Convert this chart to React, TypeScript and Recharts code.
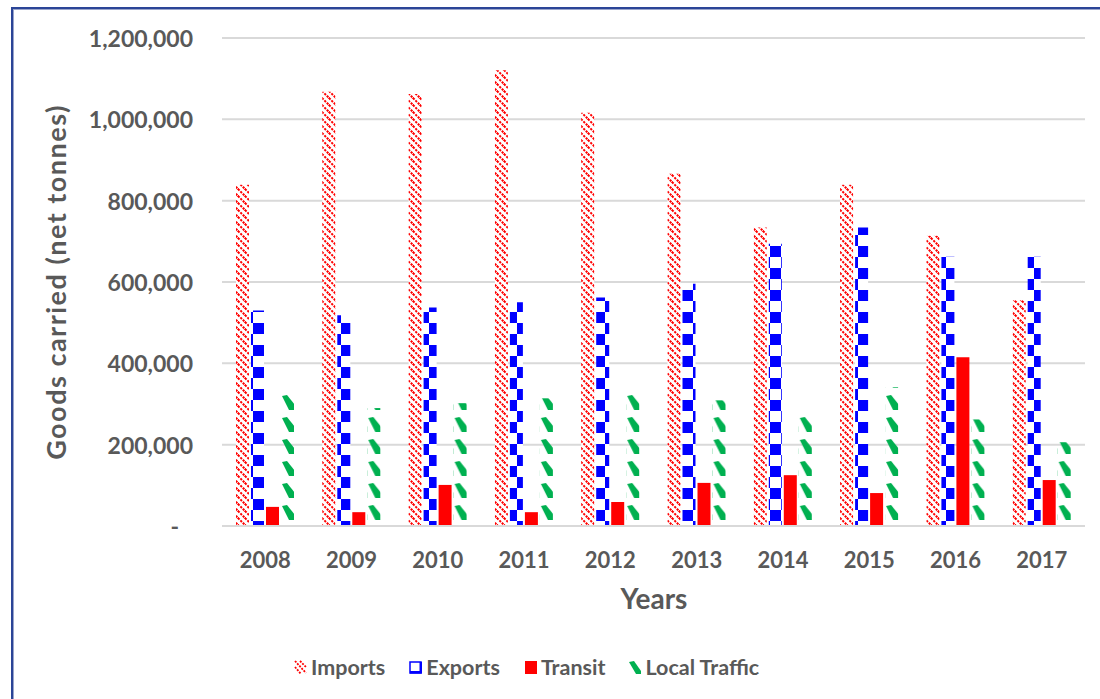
import React from 'react';
import { BarChart, Bar, XAxis, YAxis, CartesianGrid, Legend } from 'recharts';

const years = ['2008', '2009', '2010', '2011', '2012', '2013', '2014', '2015', '2016', '2017'];
const imports = [839000, 1068000, 1062000, 1121000, 1016000, 866000, 734000, 839000, 714000, 555000];
const exports_ = [530000, 518000, 537000, 550000, 562000, 596000, 694000, 734000, 662000, 662000];
const transit = [47000, 34000, 101000, 34000, 59000, 106000, 125000, 81000, 415000, 113000];
const localTraffic = [334000, 290000, 302000, 314000, 339000, 309000, 275000, 341000, 262000, 206000];
const yTicks = [0, 200000, 400000, 600000, 800000, 1000000, 1200000];

const data = years.map((year, i) => ({
  year,
  imports: imports[i],
  exports: exports_[i],
  transit: transit[i],
  local: localTraffic[i],
}));

const FONT = 'Lato, "DejaVu Sans", sans-serif';
const GREY = '#595959';

const YTick = (props: any) => {
  const { x, y, payload } = props;
  const v = payload.value;
  return (
    <text x={v === 0 ? x - 14 : x} y={y} textAnchor="end" dominantBaseline="central"
      fill={GREY} fontSize={23} fontWeight={700} fontFamily={FONT}>
      {v === 0 ? '-' : v.toLocaleString('en-US')}
    </text>
  );
};

// green streaks are aligned to each bar, like the original
const LocalBar = (props: any) => {
  const { x, y, width, height, index } = props;
  if (!height || height <= 0) return null;
  const id = `local-${index}`;
  return (
    <g>
      <defs>
        <pattern id={id} patternUnits="userSpaceOnUse" x={x} y={526} width={14} height={22}>
          <polygon points="1,2 6,1 14,11 14,16 8,16" fill="#00b050" />
        </pattern>
      </defs>
      <rect x={x} y={y} width={width} height={height} fill={`url(#${id})`} />
    </g>
  );
};

const renderLegend = () => {
  const item = (icon: React.ReactNode, label: string, gap: number) => (
    <div style={{ display: 'flex', alignItems: 'center', marginRight: gap }}>
      <svg width={14} height={14} style={{ marginRight: 3 }}>{icon}</svg>
      <span>{label}</span>
    </div>
  );
  return (
    <div style={{ display: 'flex', alignItems: 'center', height: 30, fontFamily: FONT, fontWeight: 700, fontSize: 21.5, color: GREY }}>
      {item(
        <g stroke="#ff0000" strokeWidth={1.8} strokeDasharray="2 1.2">
          <path d="M1,1 L12,13" />
          <path d="M1,7 L7,14" />
          <path d="M6,1 L12,7" />
        </g>, 'Imports', 24)}
      {item(
        <g>
          <rect x={1} y={2} width={11} height={11} fill="#fff" stroke="#0000ff" strokeWidth={1.5} />
          <rect x={1} y={11} width={12} height={2.5} fill="#0000ff" />
          <rect x={10.5} y={2} width={2.5} height={11} fill="#0000ff" />
        </g>, 'Exports', 24)}
      {item(<rect x={1} y={1} width={12} height={13} fill="#ff0000" />, 'Transit', 23)}
      {item(<polygon points="1,2 6,1 13,11 13,14 8,14" fill="#00b050" />, 'Local Traffic', 0)}
    </div>
  );
};

export default function App() {
  return (
    <div style={{ position: 'absolute', left: 0, top: 0, width: 1100, height: 699, background: '#fff', overflow: 'hidden' }}>
      <div style={{ position: 'absolute', left: 11, top: 7, width: 1100, height: 700, borderLeft: '2px solid #2b4597', borderTop: '2px solid #2b4597', boxShadow: 'inset 1px 1px 0 #9aa5cb' }} />
      <div style={{ position: 'absolute', left: 0, top: 0 }}>
        <BarChart width={1100} height={699} data={data}
          margin={{ top: 38, right: 15, left: 12, bottom: 93 }}
          barGap={2} barSize={13}>
          <defs>
            <pattern id="imp" patternUnits="userSpaceOnUse" width={7} height={7}>
              <rect width={7} height={7} fill="#fff" />
              <g stroke="#ff0000" strokeWidth={2} strokeDasharray="2.2 1.2">
                <path d="M0,0 L7,7" />
                <path d="M-1,6 L1,8" />
                <path d="M6,-1 L8,1" />
              </g>
            </pattern>
            <pattern id="exp" patternUnits="userSpaceOnUse" width={22} height={22} y={4}>
              <rect width={22} height={22} fill="#fff" />
              <rect x={0} y={0} width={11} height={11} fill="#0000ff" />
              <rect x={11} y={11} width={11} height={11} fill="#0000ff" />
            </pattern>
          </defs>
          <CartesianGrid vertical={false} stroke="#d9d9d9" strokeWidth={2} />
          <XAxis dataKey="year" height={80} tickLine={false}
            axisLine={{ stroke: '#d9d9d9', strokeWidth: 2 }} tickMargin={20}
            tick={{ fill: GREY, fontSize: 22, fontWeight: 700, fontFamily: FONT }}
            label={{
              content: () => (
                <text x={654} y={598} textAnchor="middle" dominantBaseline="central"
                  fill={GREY} fontSize={28} fontWeight={700} fontFamily={FONT}>Years</text>
              ),
            }} />
          <YAxis width={210} domain={[0, 1200000]} ticks={yTicks} tickLine={false}
            axisLine={false} tickMargin={23} tick={<YTick />}
            label={{
              content: () => (
                <text x={55} y={282} transform="rotate(-90 55 282)" textAnchor="middle"
                  dominantBaseline="central" fill={GREY} fontSize={27} fontWeight={700}
                  letterSpacing={1.5} fontFamily={FONT}>Goods carried (net tonnes)</text>
              ),
            }} />
          <Legend layout="horizontal" verticalAlign="middle" align="center"
            wrapperStyle={{ top: 652, left: 294, width: 620 }} content={renderLegend} />
          <Bar dataKey="imports" name="Imports" fill="url(#imp)" isAnimationActive={false} />
          <Bar dataKey="exports" name="Exports" fill="url(#exp)" isAnimationActive={false} />
          <Bar dataKey="transit" name="Transit" fill="#ff0000" isAnimationActive={false} />
          <Bar dataKey="local" name="Local Traffic" fill="#00b050" shape={<LocalBar />} isAnimationActive={false} />
        </BarChart>
      </div>
    </div>
  );
}
